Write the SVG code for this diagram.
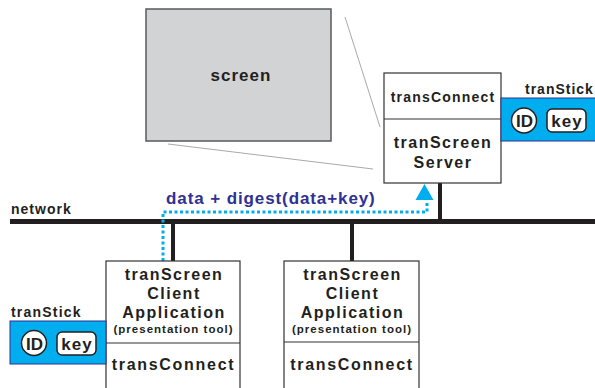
<svg xmlns="http://www.w3.org/2000/svg" width="595" height="388" viewBox="0 0 595 388">
<style>
.t{font-family:"Liberation Sans",Arial,sans-serif;font-weight:bold;fill:#231f20}
.box{fill:#fff;stroke:#333;stroke-width:1.2}
.stick{fill:#00aeef;stroke:#2e3192;stroke-width:1}
.id{fill:#fff;stroke:#231f20;stroke-width:1.5}
.wire{stroke:#231f20;fill:none}
.thin{stroke:#a7a9ac;stroke-width:1;fill:none}
</style>
<rect width="595" height="388" fill="#fff"/>
<g id="screen">
<line class="thin" x1="345" y1="17" x2="380" y2="127"/>
<line class="thin" x1="168" y1="144" x2="373" y2="169"/>
<rect x="146" y="9" width="185" height="132" fill="#d1d3d4" stroke="#58595b" stroke-width="1.5"/>
<text class="t" x="241" y="81" font-size="17" letter-spacing="1" text-anchor="middle">screen</text>
</g>
<g id="connectors">
<line class="wire" x1="10" y1="221.5" x2="595" y2="221.5" stroke-width="5"/>
<line class="wire" x1="440" y1="183" x2="440" y2="221" stroke-width="4"/>
<line class="wire" x1="173" y1="221" x2="173" y2="261" stroke-width="4"/>
<line class="wire" x1="352" y1="221" x2="352" y2="261" stroke-width="4"/>
<path d="M163 261 V212 H427 V201" fill="none" stroke="#00aeef" stroke-width="3" stroke-dasharray="3 2.5"/>
<polygon points="424.5,184 415.5,200 433.5,200" fill="#00aeef"/>
<text class="t" x="166" y="204" font-size="17" letter-spacing="0.9" style="fill:#2e3192">data + digest(data+key)</text>
<text class="t" x="11" y="214" font-size="14" letter-spacing="1">network</text>
</g>
<g id="server">
<rect class="box" x="384" y="73" width="117" height="110"/>
<line x1="384" y1="119" x2="501" y2="119" stroke="#333" stroke-width="1.2"/>
<text class="t" x="443" y="102" font-size="14" letter-spacing="1.2" text-anchor="middle">transConnect</text>
<text class="t" x="443" y="148" font-size="16" letter-spacing="1.5" text-anchor="middle">tranScreen</text>
<text class="t" x="443" y="168" font-size="16" letter-spacing="1.5" text-anchor="middle">Server</text>
</g>
<g id="tranStick-server">
<text class="t" x="525" y="94" font-size="14" letter-spacing="1">tranStick</text>
<rect class="stick" x="501" y="98" width="100" height="43"/>
<circle class="id" cx="524" cy="120.5" r="12.5"/>
<text class="t" x="524.5" y="127" font-size="17" text-anchor="middle">ID</text>
<rect class="id" x="547" y="109" width="39" height="23" rx="5"/>
<text class="t" x="567" y="126.5" font-size="17" letter-spacing="1" text-anchor="middle">key</text>
</g>
<g id="client1">
<rect class="box" x="106" y="261" width="134" height="140"/>
<line x1="106" y1="343" x2="240" y2="343" stroke="#333" stroke-width="1.2"/>
<text class="t" x="174" y="280" font-size="16" letter-spacing="1.5" text-anchor="middle">tranScreen</text>
<text class="t" x="174" y="299" font-size="16" letter-spacing="1.5" text-anchor="middle">Client</text>
<text class="t" x="174" y="318" font-size="16" letter-spacing="1.5" text-anchor="middle">Application</text>
<text class="t" x="173.5" y="333" font-size="11.5" letter-spacing="1" text-anchor="middle">(presentation tool)</text>
<text class="t" x="173.5" y="370" font-size="16" letter-spacing="1.7" text-anchor="middle">transConnect</text>
</g>
<g id="tranStick-client">
<text class="t" x="11" y="317" font-size="14" letter-spacing="1.2">tranStick</text>
<rect class="stick" x="10" y="321" width="96" height="43"/>
<circle class="id" cx="34" cy="343" r="12.5"/>
<text class="t" x="34.5" y="349.5" font-size="17" text-anchor="middle">ID</text>
<rect class="id" x="57" y="332" width="39" height="23" rx="5"/>
<text class="t" x="77" y="349.5" font-size="17" letter-spacing="1" text-anchor="middle">key</text>
</g>
<g id="client2">
<rect class="box" x="284" y="261" width="135" height="140"/>
<line x1="284" y1="342" x2="419" y2="342" stroke="#333" stroke-width="1.2"/>
<text class="t" x="352.5" y="280" font-size="16" letter-spacing="1.5" text-anchor="middle">tranScreen</text>
<text class="t" x="352.5" y="299" font-size="16" letter-spacing="1.5" text-anchor="middle">Client</text>
<text class="t" x="352.5" y="318" font-size="16" letter-spacing="1.5" text-anchor="middle">Application</text>
<text class="t" x="352" y="333" font-size="11.5" letter-spacing="1" text-anchor="middle">(presentation tool)</text>
<text class="t" x="352" y="370" font-size="16" letter-spacing="1.7" text-anchor="middle">transConnect</text>
</g>
</svg>
